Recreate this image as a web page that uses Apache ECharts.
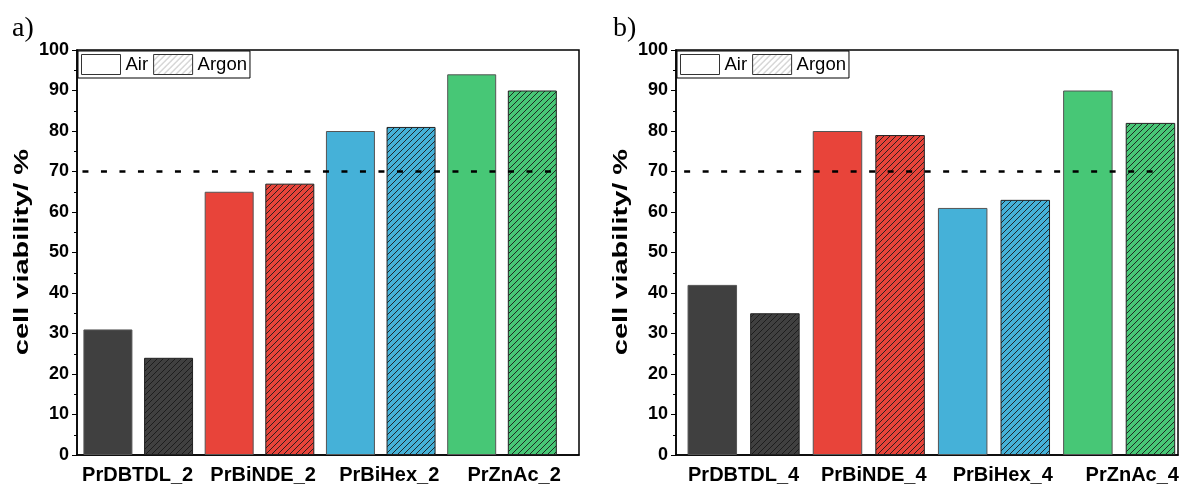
<!DOCTYPE html>
<html>
<head>
<meta charset="utf-8">
<script src="https://cdn.jsdelivr.net/npm/echarts@6/dist/echarts.min.js"></script>
<style>
html,body{margin:0;padding:0;background:#fff;}
#chart{width:1184px;height:487px;}
</style>
</head>
<body>
<div id="chart"></div>
<script>
// ---- data ----
const categoriesA = ['PrDBTDL_2', 'PrBiNDE_2', 'PrBiHex_2', 'PrZnAc_2'];
const categoriesB = ['PrDBTDL_4', 'PrBiNDE_4', 'PrBiHex_4', 'PrZnAc_4'];
const airA = [31, 65, 80, 94];
const argonA = [24, 67, 81, 90];
const airB = [42, 80, 61, 90];
const argonB = [35, 79, 63, 82];
const thresholdValue = 70;
const yTicks = [0, 10, 20, 30, 40, 50, 60, 70, 80, 90, 100];
const seriesNames = ['Air', 'Argon'];
const yTitle = 'cell viability/ %';
const panelLabels = ['a)', 'b)'];

// ---- styling ----
const groupColors = ['#404040', '#e8443a', '#45b1d8', '#47c776'];
const FONT = '"Liberation Sans", Arial, sans-serif';

function hatch(bg, line, lw) {
  const c = document.createElement('canvas');
  const s = 6;
  c.width = s; c.height = s;
  const ctx = c.getContext('2d');
  ctx.fillStyle = bg;
  ctx.fillRect(0, 0, s, s);
  ctx.strokeStyle = line;
  ctx.lineWidth = lw;
  ctx.beginPath();
  ctx.moveTo(-1, s + 1); ctx.lineTo(s + 1, -1);
  ctx.moveTo(-1, 1); ctx.lineTo(1, -1);
  ctx.moveTo(s - 1, s + 1); ctx.lineTo(s + 1, s - 1);
  ctx.stroke();
  return { image: c, repeat: 'repeat' };
}

const chart = echarts.init(document.getElementById('chart'), null, { renderer: 'canvas' });

function panel(idx, cats, air, argon, cfg) {
  const grid = { left: cfg.left, right: cfg.right, top: 50, bottom: 32, show: true, borderColor: '#000', borderWidth: 1.5, backgroundColor: 'transparent', containLabel: false };
  const xAxis = {
    gridIndex: idx, type: 'value', min: cfg.xmin, max: cfg.xmax,
    axisLine: { show: true, onZero: false, lineStyle: { color: '#000', width: 1.5 } },
    axisTick: { show: false }, axisLabel: { show: false }, splitLine: { show: false }
  };
  const yAxis = {
    gridIndex: idx, type: 'value', min: yTicks[0], max: yTicks[yTicks.length - 1], interval: yTicks[1] - yTicks[0],
    axisLine: { show: true, onZero: false, lineStyle: { color: '#000', width: 1.5 } },
    axisTick: { show: true, inside: false, length: 5, lineStyle: { color: '#000', width: 1 } },
    minorTick: { show: true, splitNumber: 2, length: 3, lineStyle: { color: '#000', width: 1 } },
    axisLabel: { fontFamily: FONT, fontWeight: 'bold', fontSize: 18, color: '#000', margin: 8 },
    splitLine: { show: false }
  };
  const airData = air.map((v, i) => ({ value: [2 * i, v], itemStyle: { color: groupColors[i], borderColor: '#555', borderWidth: 1 } }));
  const argonData = argon.map((v, i) => ({ value: [2 * i + 1, v], itemStyle: { color: hatch(groupColors[i], '#1a1a1a', 0.9), borderColor: '#222', borderWidth: 1 } }));
  const series = [
    { name: seriesNames[0], type: 'bar', xAxisIndex: idx, yAxisIndex: idx, barWidth: cfg.barWidth, barGap: '-100%', data: airData, z: 2 },
    { name: seriesNames[1], type: 'bar', xAxisIndex: idx, yAxisIndex: idx, barWidth: cfg.barWidth, barGap: '-100%', data: argonData, z: 2 },
    { name: 'threshold', type: 'line', xAxisIndex: idx, yAxisIndex: idx, showSymbol: false, symbol: 'none', silent: true, z: 5,
      data: [[cfg.lineFrom, thresholdValue], [cfg.lineTo, thresholdValue]],
      lineStyle: { color: '#000', width: 2.5, type: [6, 12.5] } },
    { name: 'labels', type: 'scatter', xAxisIndex: idx, yAxisIndex: idx, symbolSize: 0, silent: true, z: 6,
      itemStyle: { opacity: 1 },
      data: cats.map((c, i) => ({ value: [2 * i + cfg.labelOffsets[i], 0], name: c })),
      label: { show: true, position: 'bottom', distance: 10, formatter: p => p.name, fontFamily: FONT, fontWeight: 'bold', fontSize: 20, color: '#000', opacity: 1 } }
  ];
  const legend = {
    left: cfg.left + 1, top: 51, orient: 'horizontal', selectedMode: false,
    itemWidth: 39, itemHeight: 20, itemGap: 5, padding: [3, 3, 3, 3],
    borderColor: '#000', borderWidth: 1, backgroundColor: '#fff',
    textStyle: { fontFamily: FONT, fontSize: 18.5, color: '#000' },
    data: [
      { name: seriesNames[0], icon: 'rect', itemStyle: { color: '#fff', borderColor: '#333', borderWidth: 1 } },
      { name: seriesNames[1], icon: 'rect', itemStyle: { color: hatch('#fff', '#999', 0.8), borderColor: '#333', borderWidth: 1 } }
    ]
  };
  return { grid, xAxis, yAxis, series, legend };
}

const pA = panel(0, categoriesA, airA, argonA, { left: 77, right: 605, xmin: -0.51, xmax: 7.77, barWidth: 49, lineFrom: -0.42, lineTo: 7.38, labelOffsets: [0.49, 0.56, 0.64, 0.70] });
const pB = panel(1, categoriesB, airB, argonB, { left: 676, right: 6, xmin: -0.58, xmax: 7.44, barWidth: 49.5, lineFrom: -0.45, lineTo: 7.15, labelOffsets: [0.50, 0.58, 0.64, 0.71] });

function yTitleGraphic(cx) {
  return { type: 'text', x: cx, y: 252, rotation: Math.PI / 2, scaleX: 1.45, scaleY: 1,
    style: { text: yTitle, font: 'bold 20px ' + FONT, fill: '#000', align: 'center', verticalAlign: 'middle' } };
}

chart.setOption({
  animation: false,
  textStyle: { fontFamily: FONT },
  grid: [pA.grid, pB.grid],
  xAxis: [pA.xAxis, pB.xAxis],
  yAxis: [pA.yAxis, pB.yAxis],
  legend: [pA.legend, pB.legend],
  series: pA.series.concat(pB.series),
  graphic: [
    { type: 'text', left: 12, top: 15, style: { text: panelLabels[0], font: '28px "Liberation Serif", "Times New Roman", serif', fill: '#000' } },
    { type: 'text', left: 613, top: 15, style: { text: panelLabels[1], font: '28px "Liberation Serif", "Times New Roman", serif', fill: '#000' } },
    yTitleGraphic(22),
    yTitleGraphic(621)
  ]
});
</script>
</body>
</html>
